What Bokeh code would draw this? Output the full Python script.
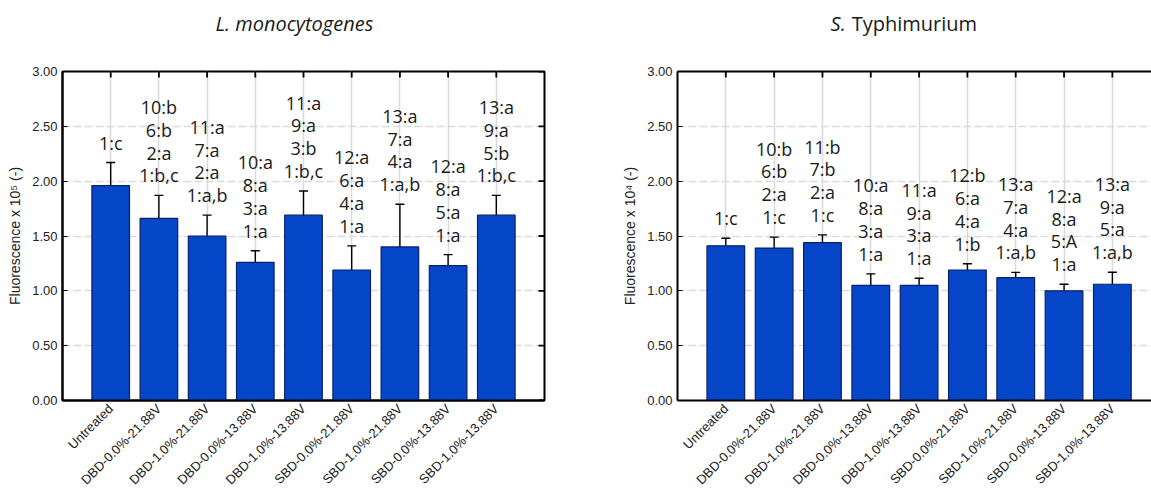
import math
from bokeh.plotting import figure
from bokeh.models import (Range1d, FixedTicker, LinearAxis, ColumnDataSource,
                          Whisker, TeeHead)
from bokeh.layouts import row, column
from bokeh.core.properties import value
from bokeh.embed import file_html
from bokeh.resources import INLINE

categories = ["Untreated", "DBD-0.0%-21.88V", "DBD-1.0%-21.88V", "DBD-0.0%-13.88V",
              "DBD-1.0%-13.88V", "SBD-0.0%-21.88V", "SBD-1.0%-21.88V",
              "SBD-0.0%-13.88V", "SBD-1.0%-13.88V"]

lm_mean = [1.96, 1.66, 1.50, 1.26, 1.69, 1.19, 1.40, 1.23, 1.69]
lm_err = [0.21, 0.21, 0.19, 0.105, 0.22, 0.22, 0.39, 0.10, 0.18]
lm_labels = ["1:c", "10:b\n6:b\n2:a\n1:b,c", "11:a\n7:a\n2:a\n1:a,b",
             "10:a\n8:a\n3:a\n1:a", "11:a\n9:a\n3:b\n1:b,c", "12:a\n6:a\n4:a\n1:a",
             "13:a\n7:a\n4:a\n1:a,b", "12:a\n8:a\n5:a\n1:a", "13:a\n9:a\n5:b\n1:b,c"]

st_mean = [1.41, 1.39, 1.44, 1.05, 1.05, 1.19, 1.12, 1.00, 1.06]
st_err = [0.07, 0.10, 0.07, 0.105, 0.065, 0.057, 0.048, 0.06, 0.11]
st_labels = ["1:c", "10:b\n6:b\n2:a\n1:c", "11:b\n7:b\n2:a\n1:c",
             "10:a\n8:a\n3:a\n1:a", "11:a\n9:a\n3:a\n1:a", "12:b\n6:a\n4:a\n1:b",
             "13:a\n7:a\n4:a\n1:a,b", "12:a\n8:a\n5:A\n1:a", "13:a\n9:a\n5:a\n1:a,b"]

y_ticks = [0, 0.5, 1.0, 1.5, 2.0, 2.5, 3.0]
y_tick_labels = ["0.00", "0.50", "1.00", "1.50", "2.00", "2.50", "3.00"]

BAR = "#0646C8"
BAR_LINE = "#0B1F6B"
GRID = "#dadada"
TICK_FONT = "Liberation Sans"
ANN_FONT = "Open Sans"
TITLE_H = 45


def make_panel(mean, err, labels, ylabel, width, border_left, border_right, x_end,
               show_outline):
    xs = list(range(1, len(categories) + 1))
    src = ColumnDataSource(dict(
        x=xs, top=mean,
        upper=[m + e for m, e in zip(mean, err)],
        lower=[m - e for m, e in zip(mean, err)],
        ann=labels))

    p = figure(width=width, height=495 - TITLE_H, output_backend="svg",
               toolbar_location=None,
               x_range=Range1d(0, x_end), y_range=Range1d(0, 3.0),
               min_border_left=border_left, min_border_right=border_right,
               min_border_top=71 - TITLE_H, min_border_bottom=93)
    p.background_fill_color = "white"
    p.border_fill_color = "white"
    if show_outline:
        p.outline_line_color = "black"
        p.outline_line_width = 2
    else:
        p.outline_line_color = None

    xa = p.xaxis[0]
    xa.ticker = FixedTicker(ticks=xs)
    xa.major_label_overrides = {i + 1: c for i, c in enumerate(categories)}
    xa.major_label_orientation = math.pi / 4
    xa.major_label_text_font = TICK_FONT
    xa.major_label_text_font_size = "13px"
    xa.major_label_text_color = "#222222"
    xa.major_tick_in = 0
    xa.major_tick_out = 0
    xa.minor_tick_line_color = None
    xa.axis_line_color = "black"
    xa.axis_line_width = 2
    xa.major_label_standoff = 6

    ya = p.yaxis[0]
    ya.ticker = FixedTicker(ticks=y_ticks)
    ya.major_label_overrides = {t: l for t, l in zip(y_ticks, y_tick_labels)}
    ya.major_label_text_font = TICK_FONT
    ya.major_label_text_font_size = "13px"
    ya.major_label_text_color = "#222222"
    ya.major_tick_in = 5
    ya.major_tick_out = 0
    ya.minor_tick_line_color = None
    ya.axis_line_color = "black"
    ya.axis_line_width = 2
    ya.major_label_standoff = 5
    ya.axis_label = ylabel
    ya.axis_label_text_font = TICK_FONT
    ya.axis_label_text_font_size = "14px"
    ya.axis_label_text_font_style = "normal"
    ya.axis_label_text_color = "#222222"
    ya.axis_label_standoff = 6

    if not show_outline:
        top = LinearAxis(ticker=FixedTicker(ticks=[]), major_tick_in=0,
                         major_tick_out=0, minor_tick_line_color=None,
                         axis_line_color="black", axis_line_width=2)
        p.add_layout(top, "above")

    p.xgrid.ticker = FixedTicker(ticks=xs)
    p.xgrid.grid_line_color = GRID
    p.xgrid.grid_line_width = 1.5
    p.ygrid.ticker = FixedTicker(ticks=y_ticks)
    p.ygrid.grid_line_color = GRID
    p.ygrid.grid_line_width = 1.5
    p.ygrid.grid_line_dash = "8 3"

    # inward ticks on the top edge (and right edge when the frame is closed)
    p.scatter(x=xs, y=3.0, marker="dash", angle=math.pi / 2, size=12,
              line_color="black", line_width=1.8)
    if show_outline:
        p.scatter(x=x_end, y=y_ticks, marker="dash", size=12,
                  line_color="black", line_width=1.8)

    p.vbar(x="x", top="top", bottom=0, width=0.78, source=src,
           fill_color=BAR, line_color=BAR_LINE, line_width=1.2)

    w = Whisker(base="x", upper="upper", lower="lower", source=src,
                line_color="black", line_width=1.4,
                upper_head=TeeHead(size=9, line_color="black", line_width=1.4),
                lower_head=TeeHead(size=9, line_color="black", line_width=1.4))
    p.add_layout(w)

    p.text(x="x", y="upper", text="ann", source=src, text_align="center",
           text_baseline="bottom", y_offset=-8, text_font=value(ANN_FONT),
           text_font_size="18px", text_color="#1a1a1a", text_line_height=0.95)
    return p


def make_title(panel, width, border_left, border_right, parts):
    t = figure(width=width, height=TITLE_H, output_backend="svg",
               toolbar_location=None, x_range=panel.x_range, y_range=Range1d(0, 1),
               x_axis_type=None, y_axis_type=None,
               min_border_left=border_left, min_border_right=border_right,
               min_border_top=0, min_border_bottom=0)
    t.outline_line_color = None
    t.grid.visible = False
    t.background_fill_color = "white"
    t.border_fill_color = "white"
    for x, txt, align, style, dx in parts:
        t.text(x=[x], y=[0.5], text=[txt], text_align=align, text_baseline="middle",
               x_offset=dx, text_font=value(ANN_FONT), text_font_size="20px",
               text_font_style=style, text_color="#1a1a1a")
    return t


p1 = make_panel(lm_mean, lm_err, lm_labels, "Fluorescence x 10\u2075 (-)",
                600, 62, 56, 10.0, True)
p2 = make_panel(st_mean, st_err, st_labels, "Fluorescence x 10\u2074 (-)",
                551, 77, 0, 9.81, False)

t1 = make_title(p1, 600, 62, 56, [(4.81, "L. monocytogenes", "center", "italic", 0)])
t2 = make_title(p2, 551, 77, 0, [(3.48, "S.", "right", "italic", 0),
                                 (3.48, "Typhimurium", "left", "normal", 6)])

layout = row(column(t1, p1), column(t2, p2))
open("out.html", "w").write(file_html(layout, INLINE))
